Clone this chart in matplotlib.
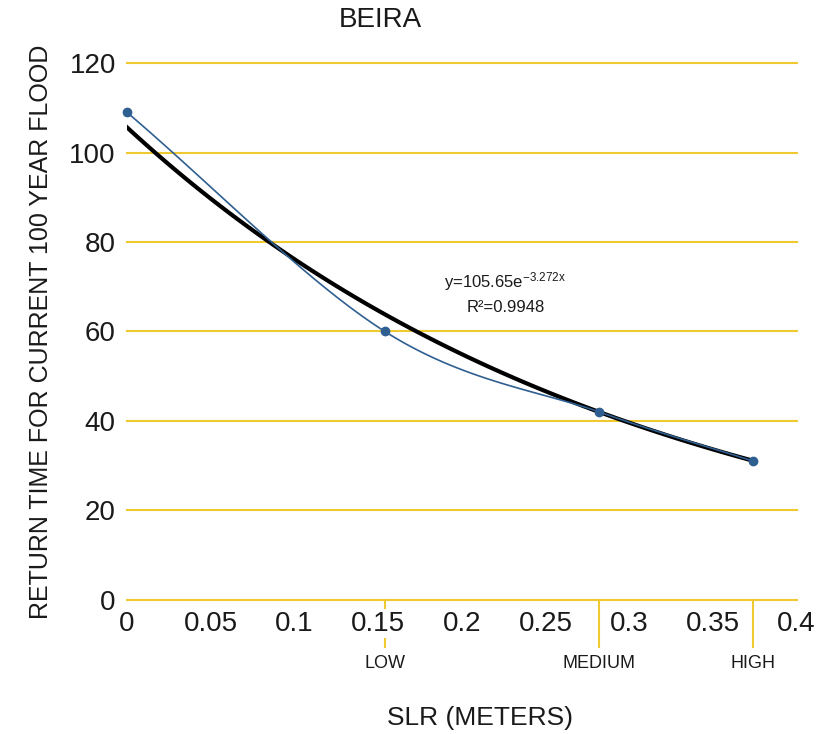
import numpy as np
import matplotlib.pyplot as plt

plt.rcParams['font.family'] = ['Liberation Sans', 'DejaVu Sans']
plt.rcParams['mathtext.default'] = 'regular'

# data
slr = [0.0, 0.154, 0.282, 0.374]
return_time = [109, 60, 42, 31]
scenario_x = [0.154, 0.282, 0.374]
scenario_names = ["LOW", "MEDIUM", "HIGH"]
fit_a, fit_b = 105.65, -3.272
x_ticks = [0, 0.05, 0.1, 0.15, 0.2, 0.25, 0.3, 0.35, 0.4]
x_tick_labels = ["0", "0.05", "0.1", "0.15", "0.2", "0.25", "0.3", "0.35", "0.4"]
y_ticks = [0, 20, 40, 60, 80, 100, 120]

grid_col = "#F0C830"
blue = "#2F5F91"
txt = "#1a1a1a"


def catmull_rom(xs, ys, n=40):
    # smooth curve through the points (like Excel's smoothed line)
    px = [2 * xs[0] - xs[1]] + list(xs) + [2 * xs[-1] - xs[-2]]
    py = [2 * ys[0] - ys[1]] + list(ys) + [2 * ys[-1] - ys[-2]]
    outx, outy = [], []
    t = np.linspace(0, 1, n)
    for i in range(1, len(px) - 2):
        for p, out in ((px, outx), (py, outy)):
            p0, p1, p2, p3 = p[i - 1], p[i], p[i + 1], p[i + 2]
            out.extend(0.5 * (2 * p1 + (-p0 + p2) * t
                              + (2 * p0 - 5 * p1 + 4 * p2 - p3) * t ** 2
                              + (-p0 + 3 * p1 - 3 * p2 + p3) * t ** 3))
    return outx, outy


fig = plt.figure(figsize=(8.35, 7.34), dpi=100)
ax = fig.add_axes([0.152, 0.183, 0.802, 0.731])

for y in y_ticks:
    ax.axhline(y, color=grid_col, lw=1.5, zorder=1, clip_on=False)

# scenario marker lines below the axis
for sx in scenario_x:
    ax.plot([sx, sx], [0, -10.5], color=grid_col, lw=1.5, clip_on=False, zorder=1)

sx_s, sy_s = catmull_rom(slr, return_time)
ax.plot(sx_s, sy_s, color=blue, lw=1.2, zorder=3)
ax.plot(slr, return_time, "o", color=blue, ms=6, zorder=4, clip_on=False)

xf = np.linspace(0, slr[-1], 100)
ax.plot(xf, fit_a * np.exp(fit_b * xf), color="black", lw=3, zorder=2)

ax.set_xlim(0, 0.4)
ax.set_ylim(0, 120)
ax.set_xticks(x_ticks)
ax.set_xticklabels(x_tick_labels)
ax.set_yticks(y_ticks)
for s in ax.spines.values():
    s.set_visible(False)
ax.tick_params(length=0, labelsize=20, pad=8, labelcolor=txt)
for lab in ax.get_xticklabels():
    lab.set_bbox(dict(facecolor="white", edgecolor="none", pad=1))
    lab.set_zorder(5)

for sx, name in zip(scenario_x, scenario_names):
    ax.text(sx, -14.3, name, ha="center", va="center", fontsize=13, color=txt)

ax.text(0.226, 71.2, r"y=105.65e$^{-3.272x}$", ha="center", va="center", fontsize=12, color=txt)
ax.text(0.226, 65.4, "R²=0.9948", ha="center", va="center", fontsize=12, color=txt)

fig.text(380 / 835, 1 - 20 / 734, "BEIRA", ha="center", va="center", fontsize=20, color=txt)
ax.set_ylabel("RETURN TIME FOR CURRENT 100 YEAR FLOOD", fontsize=18, labelpad=12, color=txt)
fig.text(480 / 835, 1 - 718 / 734, "SLR (METERS)", ha="center", va="center", fontsize=19, color=txt)

fig.savefig("out.png", dpi=100)
